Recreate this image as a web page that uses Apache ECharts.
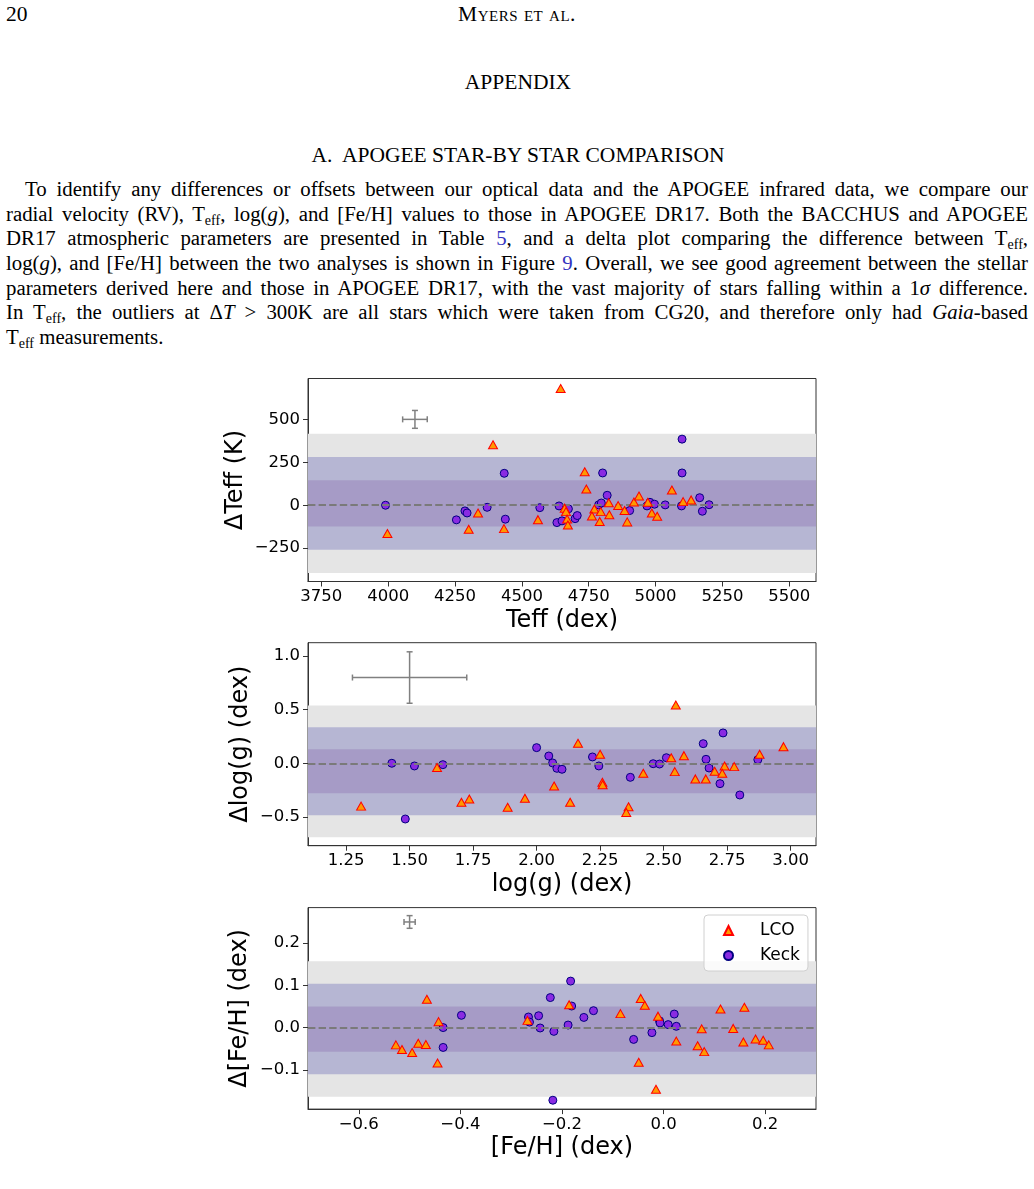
<!DOCTYPE html>
<html>
<head>
<meta charset="utf-8">
<script src="https://cdn.jsdelivr.net/npm/echarts@6/dist/echarts.min.js"></script>
<style>
  body { margin: 0; width: 1034px; height: 1189px; overflow: hidden; background: #fff; position: relative;
         font-family: "Liberation Serif", "DejaVu Serif", serif; color: #000; }
  .abs { position: absolute; }
  .hdr { font-size: 21.5px; line-height: 20px; }
  .sc { font-variant: small-caps; letter-spacing: 0.5px; }
  #para { left: 6px; top: 177px; width: 1022px; font-size: 20.8px; line-height: 24.65px; }
  #para div { text-align: justify; text-align-last: justify; white-space: nowrap; }
  #para div.last { text-align-last: left; }
  sub { font-size: 14px; vertical-align: -4px; line-height: 0; }
  .lnk { color: #3434c0; }
  #chart { position: absolute; left: 0; top: 370px; width: 1034px; height: 810px; }
</style>
</head>
<body>
<div class="abs hdr" style="left:6px; top:4px;">20</div>
<div class="abs hdr sc" style="left:0; top:4px; width:1034px; text-align:center;">Myers et al.</div>
<div class="abs hdr" style="left:0; top:72px; width:1036px; text-align:center;">APPENDIX</div>
<div class="abs hdr" style="left:0; top:145px; width:1036px; text-align:center;">A.&nbsp; APOGEE STAR-BY STAR COMPARISON</div>
<div id="para" class="abs">
  <div style="padding-left:19px;">To identify any differences or offsets between our optical data and the APOGEE infrared data, we compare our</div>
  <div>radial velocity (RV), T<sub>eff</sub>, log(<i>g</i>), and [Fe/H] values to those in APOGEE DR17. Both the BACCHUS and APOGEE</div>
  <div>DR17 atmospheric parameters are presented in Table <span class="lnk">5</span>, and a delta plot comparing the difference between T<sub>eff</sub>,</div>
  <div>log(<i>g</i>), and [Fe/H] between the two analyses is shown in Figure <span class="lnk">9</span>. Overall, we see good agreement between the stellar</div>
  <div>parameters derived here and those in APOGEE DR17, with the vast majority of stars falling within a 1<i>σ</i> difference.</div>
  <div>In T<sub>eff</sub>, the outliers at Δ<i>T</i> &gt; 300K are all stars which were taken from CG20, and therefore only had <i>Gaia</i>-based</div>
  <div class="last">T<sub>eff</sub> measurements.</div>
</div>
<div id="chart"></div>
<script>
// tick labels
var teffTicks = [3750, 4000, 4250, 4500, 4750, 5000, 5250, 5500];
var dTeffTicks = [-250, 0, 250, 500];
var loggTicks = [1.25, 1.5, 1.75, 2.0, 2.25, 2.5, 2.75, 3.0];
var dLoggTicks = [-0.5, 0, 0.5, 1.0];
var fehTicks = [-0.6, -0.4, -0.2, 0, 0.2];
var dFehTicks = [-0.1, 0, 0.1, 0.2];

// [mean, sigma] of the shaded bands
var teffBand = [11, 135];
var loggBand = [-0.075, 0.205];
var fehBand = [-0.0035, 0.0535];

// typical error bar [x, y, xerr, yerr]
var teffErr = [4100, 500, 46, 52];
var loggErr = [1.5, 0.8, 0.225, 0.24];
var fehErr = [-0.5, 0.25, 0.011, 0.015];

// Teff vs dTeff
var teffLco = [[4645, 680], [3997, -165], [4392, 352], [4336, -45], [4301, -140], [4433, -136], [4560, -84],
  [4660, -17], [4665, -37], [4669, -80], [4672, -115], [4735, 195], [4741, 95], [5061, 89], [4771, -22],
  [4762, -63], [4795, -37], [4825, 15], [4791, -95], [4827, -55], [4860, -2], [4884, -31], [4894, -97],
  [4919, 19], [4938, 54], [4971, 17], [4986, -45], [5006, -64], [5103, 21], [5133, 31]];
var teffKeck = [[3990, 0], [4434, 186], [4255, -85], [4287, -33], [4295, -45], [4370, -12], [4438, -81],
  [4567, -14], [4639, -4], [4631, -101], [4650, -91], [4674, -21], [4699, -78], [4707, -60], [5099, 385],
  [5099, 188], [4802, 188], [4819, 58], [4787, 2], [4797, 13], [4903, -31], [4968, -4], [4979, 17],
  [4996, 6], [5036, 2], [5097, -4], [5165, 44], [5175, -35], [5200, 3]];

// log(g) vs dlog(g)
var loggLco = [[1.309, -0.40], [1.608, -0.04], [1.704, -0.364], [1.735, -0.333], [1.886, -0.41], [1.954, -0.327],
  [2.069, -0.212], [2.132, -0.364], [2.163, 0.187], [2.25, 0.084], [2.259, -0.177], [2.26, -0.2], [2.362, -0.405],
  [2.353, -0.46], [2.42, -0.093], [2.53, 0.052], [2.548, 0.544], [2.544, -0.078], [2.58, 0.071], [2.625, -0.146],
  [2.666, -0.146], [2.701, -0.075], [2.74, -0.025], [2.731, -0.093], [2.778, -0.031], [2.878, 0.084], [2.972, 0.155]];
var loggKeck = [[1.43, 0], [1.519, -0.025], [1.483, -0.52], [1.631, -0.013], [2.0, 0.146], [2.048, 0.068],
  [2.063, 0.003], [2.08, -0.047], [2.10, -0.056], [2.22, 0.059], [2.245, -0.025], [2.369, -0.131], [2.459, -0.004],
  [2.484, -0.007], [2.511, 0.052], [2.656, 0.183], [2.667, 0.037], [2.679, -0.044], [2.734, 0.283], [2.722, -0.19],
  [2.80, -0.296], [2.871, 0.034]];

// [Fe/H] vs d[Fe/H]
var fehLco = [[-0.466, 0.067], [-0.443, 0.014], [-0.527, -0.041], [-0.515, -0.052], [-0.495, -0.059], [-0.483, -0.037],
  [-0.468, -0.040], [-0.445, -0.084], [-0.268, 0.017], [-0.186, 0.054], [-0.085, 0.033], [-0.049, -0.082],
  [-0.045, 0.069], [-0.037, 0.053], [-0.015, -0.146], [-0.011, 0.027], [0.025, -0.032], [0.067, -0.043],
  [0.075, -0.003], [0.080, -0.057], [0.112, 0.044], [0.137, -0.002], [0.157, -0.034], [0.159, 0.048],
  [0.181, -0.027], [0.196, -0.030], [0.207, -0.041]];
var fehKeck = [[-0.434, 0.0], [-0.434, -0.047], [-0.398, 0.029], [-0.266, 0.025], [-0.264, 0.013], [-0.246, 0.028],
  [-0.243, -0.001], [-0.223, 0.071], [-0.216, -0.009], [-0.218, -0.172], [-0.183, 0.11], [-0.181, 0.051],
  [-0.188, 0.006], [-0.157, 0.024], [-0.138, 0.040], [-0.059, -0.028], [-0.023, -0.012], [-0.008, 0.016],
  [-0.007, 0.011], [0.009, 0.007], [0.021, 0.032], [0.025, 0.003]];

var FONT = 'DejaVu Sans';
var grids = [], xAxes = [], yAxes = [], series = [];

function fmt(dec) {
  return function (v) { return Number(v).toFixed(dec).replace('-', '\u2212'); };
}

function panel(i, top, height, xr, yr, xTicks, yTicks, xDec, yDec, xName, yName, yGap, band, err, lco, keck) {
  grids.push({ left: 308, width: 508, top: top, height: height, show: true,
    borderColor: '#333', borderWidth: 1, backgroundColor: 'transparent' });
  xAxes.push({
    gridIndex: i, type: 'value', min: xr[0], max: xr[1],
    axisLine: { show: true, onZero: false, lineStyle: { color: '#333', width: 1 } },
    axisTick: { show: true, length: 5, customValues: xTicks, lineStyle: { color: '#333' } },
    axisLabel: { customValues: xTicks, formatter: fmt(xDec), fontSize: 16.5, color: '#000', margin: 7, fontFamily: FONT },
    splitLine: { show: false },
    name: xName, nameLocation: 'middle', nameGap: 27,
    nameTextStyle: { fontSize: 24, color: '#000', fontFamily: FONT }
  });
  yAxes.push({
    gridIndex: i, type: 'value', min: yr[0], max: yr[1],
    axisLine: { show: true, onZero: false, lineStyle: { color: '#333', width: 1 } },
    axisTick: { show: true, length: 5, customValues: yTicks, lineStyle: { color: '#333' } },
    axisLabel: { customValues: yTicks, formatter: fmt(yDec), fontSize: 16.5, color: '#000', margin: 8, fontFamily: FONT },
    splitLine: { show: false },
    name: yName, nameLocation: 'middle', nameGap: yGap, nameRotate: 90,
    nameTextStyle: { fontSize: 24, color: '#000', fontFamily: FONT }
  });
  var m = band[0], s = band[1];
  series.push({
    type: 'line', data: [], xAxisIndex: i, yAxisIndex: i, z: 1, silent: true,
    markArea: { silent: true, data: [
      [{ yAxis: m - 3 * s, itemStyle: { color: '#e5e5e5' } }, { yAxis: m + 3 * s }],
      [{ yAxis: m - 2 * s, itemStyle: { color: '#b6b6d3' } }, { yAxis: m + 2 * s }],
      [{ yAxis: m - s, itemStyle: { color: '#a69bc6' } }, { yAxis: m + s }]
    ] }
  });
  series.push({
    type: 'line', data: [], xAxisIndex: i, yAxisIndex: i, z: 2, silent: true,
    markLine: { silent: true, symbol: ['none', 'none'], label: { show: false },
      lineStyle: { color: '#7a7a7a', type: [7.4, 3.2], width: 2.2 },
      data: [{ yAxis: 0 }] }
  });
  series.push({
    type: 'custom', xAxisIndex: i, yAxisIndex: i, z: 3, silent: true,
    data: [err], encode: { x: 0, y: 1 },
    renderItem: function (params, api) {
      var x = api.value(0), y = api.value(1), ex = api.value(2), ey = api.value(3);
      var l = api.coord([x - ex, y]), r = api.coord([x + ex, y]);
      var t = api.coord([x, y + ey]), b = api.coord([x, y - ey]);
      var c = 3, st = { stroke: '#808080', lineWidth: 1.5 };
      function seg(a1, a2, b1, b2) { return { type: 'line', shape: { x1: a1, y1: a2, x2: b1, y2: b2 }, style: st }; }
      return { type: 'group', children: [
        seg(l[0], l[1], r[0], r[1]), seg(t[0], t[1], b[0], b[1]),
        seg(l[0], l[1] - c, l[0], l[1] + c), seg(r[0], r[1] - c, r[0], r[1] + c),
        seg(t[0] - c, t[1], t[0] + c, t[1]), seg(b[0] - c, b[1], b[0] + c, b[1])
      ] };
    }
  });
  series.push({
    name: 'Keck', type: 'scatter', xAxisIndex: i, yAxisIndex: i, z: 4, data: keck,
    symbol: 'circle', symbolSize: 8,
    itemStyle: { color: '#8a2be2', borderColor: '#000080', borderWidth: 1, opacity: 1 }
  });
  series.push({
    name: 'LCO', type: 'scatter', xAxisIndex: i, yAxisIndex: i, z: 5, data: lco,
    symbol: 'triangle', symbolSize: [9, 8],
    itemStyle: { color: '#ff9900', borderColor: '#ff0000', borderWidth: 1, opacity: 1 }
  });
}

panel(0, 8.5, 203, [3700, 5600], [-444, 738], teffTicks, dTeffTicks, 0, 0,
  'Teff (dex)', '\u0394Teff (K)', 60, teffBand, teffErr, teffLco, teffKeck);
panel(1, 272.7, 203, [1.10, 3.10], [-0.769, 1.125], loggTicks, dLoggTicks, 2, 1,
  'log(g) (dex)', '\u0394log(g) (dex)', 55, loggBand, loggErr, loggLco, loggKeck);
panel(2, 537.6, 201.5, [-0.70, 0.30], [-0.193, 0.284], fehTicks, dFehTicks, 1, 1,
  '[Fe/H] (dex)', '\u0394[Fe/H] (dex)', 56, fehBand, fehErr, fehLco, fehKeck);

var chart = echarts.init(document.getElementById('chart'), null, { renderer: 'canvas' });
chart.setOption({
  animation: false,
  grid: grids,
  xAxis: xAxes,
  yAxis: yAxes,
  legend: {
    data: [{ name: 'LCO', icon: 'triangle' }, { name: 'Keck', icon: 'circle' }],
    orient: 'vertical', left: 704, top: 545,
    itemWidth: 9, itemHeight: 9, itemGap: 8,
    padding: [7, 8, 7, 19],
    backgroundColor: 'rgba(255,255,255,0.8)', borderColor: '#d0d0d0', borderWidth: 1, borderRadius: 4,
    textStyle: { fontSize: 17, color: '#000', fontFamily: FONT, padding: [0, 0, 0, 22] }
  },
  series: series
});
</script>
</body>
</html>
